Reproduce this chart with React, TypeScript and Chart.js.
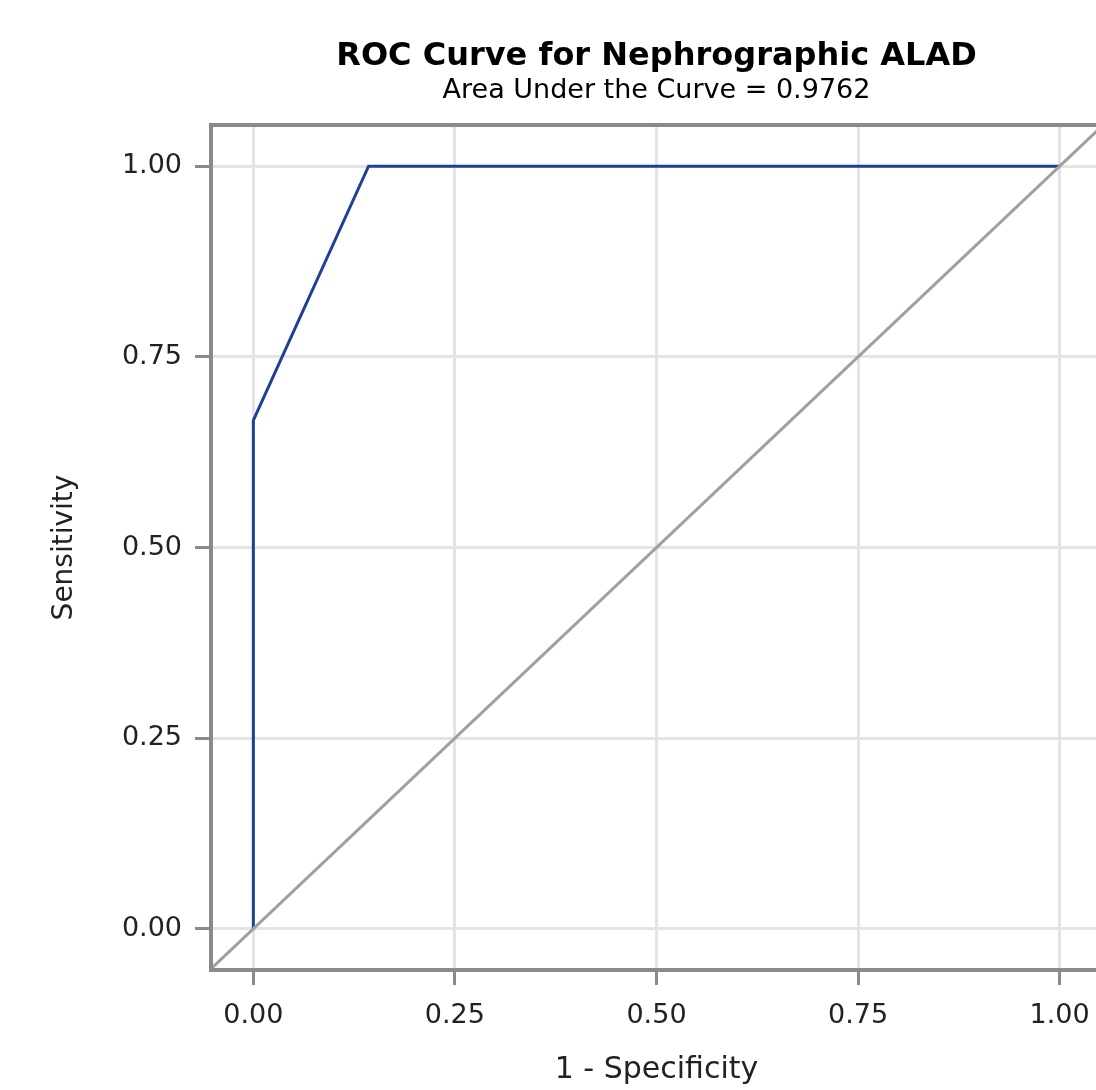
import React, { useEffect, useRef } from "react";
import { Chart, registerables } from "chart.js";

Chart.register(...registerables);

// ROC curve (1 - Specificity, Sensitivity)
const rocFpr = [0, 0, 0.1429, 1];
const rocTpr = [0, 0.6667, 1, 1];
// Reference diagonal
const diagX = [-0.1, 1.1];
const diagY = [-0.1, 1.1];
// Axis ticks
const tickValues = [0, 0.25, 0.5, 0.75, 1];
const tickLabels = ["0.00", "0.25", "0.50", "0.75", "1.00"];

const titleText = "ROC Curve for Nephrographic ALAD";
const subtitleText = "Area Under the Curve = 0.9762";
const xTitle = "1 - Specificity";
const yTitle = "Sensitivity";

const FONT = "'DejaVu Sans', Verdana, sans-serif";

const frame = {
  id: "frame",
  afterDatasetsDraw(chart: any) {
    const { ctx, chartArea } = chart;
    ctx.save();
    ctx.strokeStyle = "#8a8a8a";
    ctx.lineWidth = 4;
    ctx.strokeRect(
      chartArea.left,
      chartArea.top,
      chartArea.right - chartArea.left,
      chartArea.bottom - chartArea.top
    );
    ctx.restore();
  },
};

export default function App() {
  const ref = useRef<HTMLCanvasElement | null>(null);
  useEffect(() => {
    if (!ref.current) return;
    const fixTicks = (scale: any) => {
      scale.ticks = tickValues.map((v) => ({ value: v }));
    };
    const chart = new Chart(ref.current, {
      type: "scatter",
      data: {
        datasets: [
          {
            data: diagX.map((x, i) => ({ x, y: diagY[i] })),
            showLine: true,
            borderColor: "#a0a0a0",
            borderWidth: 3,
            pointRadius: 0,
            clip: 0,
          } as any,
          {
            data: rocFpr.map((x, i) => ({ x, y: rocTpr[i] })),
            showLine: true,
            borderColor: "#1f4096",
            borderWidth: 3,
            pointRadius: 0,
            clip: 0,
          } as any,
        ],
      },
      options: {
        animation: false,
        responsive: false,
        layout: { padding: { left: 0, right: 8, top: 0, bottom: 0 } },
        plugins: {
          legend: { display: false },
          tooltip: { enabled: false },
          title: {
            display: true,
            text: titleText,
            fullSize: false,
            color: "#000",
            font: { family: FONT, size: 32, weight: "bold", lineHeight: 1.0 },
            padding: { top: 41, bottom: 0 },
          },
          subtitle: {
            display: true,
            text: subtitleText,
            fullSize: false,
            color: "#000",
            font: { family: FONT, size: 27, lineHeight: 1.0 },
            padding: { top: 4, bottom: 21 },
          },
        } as any,
        scales: {
          x: {
            type: "linear",
            min: -0.0525,
            max: 1.0525,
            afterBuildTicks: fixTicks,
            afterFit: (s: any) => {
              s.height = 120;
            },
            grid: {
              color: "#e4e4e4",
              lineWidth: 3,
              tickColor: "#8a8a8a",
              tickWidth: 3,
              tickLength: 15,
            },
            border: { display: false },
            ticks: {
              padding: 15,
              color: "#222",
              font: { family: FONT, size: 27, lineHeight: 1.2 },
              callback: (v: any) => tickLabels[tickValues.indexOf(Number(v))] ?? "",
              maxRotation: 0,
            },
            title: {
              display: true,
              text: xTitle,
              color: "#222",
              font: { family: FONT, size: 30, lineHeight: 1.2 },
              padding: { top: 0, bottom: 2 },
            },
          },
          y: {
            type: "linear",
            min: -0.054,
            max: 1.054,
            afterBuildTicks: fixTicks,
            afterFit: (s: any) => {
              s.width = 211;
            },
            grid: {
              color: "#e4e4e4",
              lineWidth: 3,
              tickColor: "#8a8a8a",
              tickWidth: 3,
              tickLength: 16,
            },
            border: { display: false },
            ticks: {
              padding: 13,
              color: "#222",
              font: { family: FONT, size: 27, lineHeight: 1.2 },
              callback: (v: any) => tickLabels[tickValues.indexOf(Number(v))] ?? "",
            },
            title: {
              display: true,
              text: yTitle,
              color: "#222",
              font: { family: FONT, size: 28, lineHeight: 1.2 },
              padding: { top: 47.5, bottom: 0 },
            },
          },
        },
      },
      plugins: [frame],
    });
    return () => chart.destroy();
  }, []);

  return (
    <div
      style={{
        position: "fixed",
        left: 0,
        top: 0,
        width: 1096,
        height: 1090,
        overflow: "hidden",
        background: "#fff",
      }}
    >
      <canvas ref={ref} width={1110} height={1090} style={{ width: 1110, height: 1090, display: "block" }} />
    </div>
  );
}
